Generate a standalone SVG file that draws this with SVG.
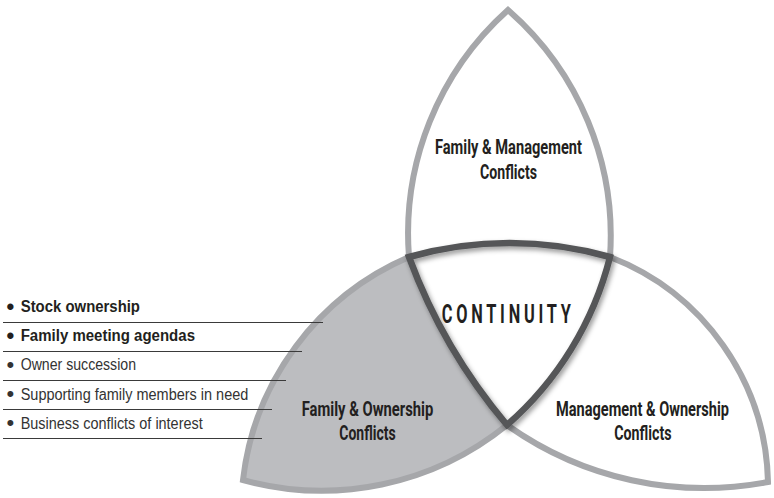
<svg xmlns="http://www.w3.org/2000/svg" width="774" height="498" viewBox="0 0 774 498">
  <style>
    .grey { fill: none; stroke: #a6a7aa; stroke-width: 6; stroke-linejoin: miter; }
    .dark { fill: none; stroke: #555658; stroke-width: 6.5; stroke-linejoin: miter; }
    .lbl { font-family: Roboto, "Liberation Sans", sans-serif; font-weight: 700; font-size: 20px; fill: #231f20; }
    .cont { font-family: Roboto, "Liberation Sans", sans-serif; font-weight: 700; font-size: 26px; fill: #231f20; letter-spacing: 6px; }
    .li { font-family: "Liberation Sans", Arial, sans-serif; font-size: 16px; fill: #333333; }
    .b { font-weight: 700; fill: #231f20; }
    .bul { font-size: 22px; }
    .rule { stroke: #3a3a3a; stroke-width: 1.2; }
  </style>
  <defs>
    <filter id="shadow" x="-20%" y="-20%" width="140%" height="140%">
      <feDropShadow dx="2" dy="3" stdDeviation="2.5" flood-color="#000000" flood-opacity="0.4"/>
    </filter>
  </defs>
  <rect width="774" height="498" fill="#ffffff"/>

  <g id="family-management">
    <path class="grey" d="M409,257 A300,300 0 0,1 508,10 A300,300 0 0,1 610,257"/>
    <text class="lbl" x="435" y="154" textLength="147" lengthAdjust="spacingAndGlyphs">Family &amp; Management</text>
    <text class="lbl" x="480" y="179" textLength="57" lengthAdjust="spacingAndGlyphs">Conflicts</text>
  </g>

  <g id="family-ownership">
    <path d="M243,480 A277,277 0 0,1 409,257 A560,560 0 0,0 507,425 A294,294 0 0,1 243,480 Z" fill="#bcbdc0"/>
    <path class="grey" d="M409,257 A277,277 0 0,0 243,480 A294,294 0 0,0 507,425"/>
    <text class="lbl" x="301.7" y="415.5" textLength="131.6" lengthAdjust="spacingAndGlyphs">Family &amp; Ownership</text>
    <text class="lbl" x="339.3" y="440" textLength="56.4" lengthAdjust="spacingAndGlyphs">Conflicts</text>
  </g>

  <g id="management-ownership">
    <path class="grey" d="M610,257 A247,247 0 0,1 768,482 A340,340 0 0,1 507,425"/>
    <text class="lbl" transform="translate(642.5,415.5) scale(0.75,1)" x="0" y="0" text-anchor="middle" textLength="230.7" lengthAdjust="spacingAndGlyphs">Management &amp; Ownership</text>
    <text class="lbl" x="614.3" y="440" textLength="57.3" lengthAdjust="spacingAndGlyphs">Conflicts</text>
  </g>

  <g id="continuity">
    <path class="dark" filter="url(#shadow)" d="M409,257 A368,368 0 0,1 610,257 A330,330 0 0,1 507,425 A560,560 0 0,1 409,257 Z"/>
    <text class="cont" x="441.7" y="322.7" textLength="133" lengthAdjust="spacingAndGlyphs">CONTINUITY</text>
  </g>

  <g id="connectors">
    <line class="rule" x1="3" y1="322.5" x2="323" y2="322.5"/>
    <line class="rule" x1="3" y1="351.5" x2="302" y2="351.5"/>
    <line class="rule" x1="3" y1="380.5" x2="286" y2="380.5"/>
    <line class="rule" x1="3" y1="409.5" x2="272" y2="409.5"/>
    <line class="rule" x1="3" y1="438.5" x2="262" y2="438.5"/>
  </g>

  <g id="issues-list">
    <text class="li b" y="312"><tspan class="bul" x="6.5" dy="1.5">• </tspan><tspan x="20.7" dy="-1.5" textLength="119.3" lengthAdjust="spacingAndGlyphs">Stock ownership</tspan></text>
    <text class="li b" y="341"><tspan class="bul" x="6.5" dy="1.5">• </tspan><tspan x="20.7" dy="-1.5" textLength="174.3" lengthAdjust="spacingAndGlyphs">Family meeting agendas</tspan></text>
    <text class="li" y="370"><tspan class="bul" x="6.5" dy="1.5">• </tspan><tspan x="20.7" dy="-1.5" textLength="115.3" lengthAdjust="spacingAndGlyphs">Owner succession</tspan></text>
    <text class="li" y="399.5"><tspan class="bul" x="6.5" dy="1.5">• </tspan><tspan x="20.7" dy="-1.5" textLength="227.6" lengthAdjust="spacingAndGlyphs">Supporting family members in need</tspan></text>
    <text class="li" y="428.5"><tspan class="bul" x="6.5" dy="1.5">• </tspan><tspan x="20.7" dy="-1.5" textLength="182" lengthAdjust="spacingAndGlyphs">Business conflicts of interest</tspan></text>
  </g>
</svg>
